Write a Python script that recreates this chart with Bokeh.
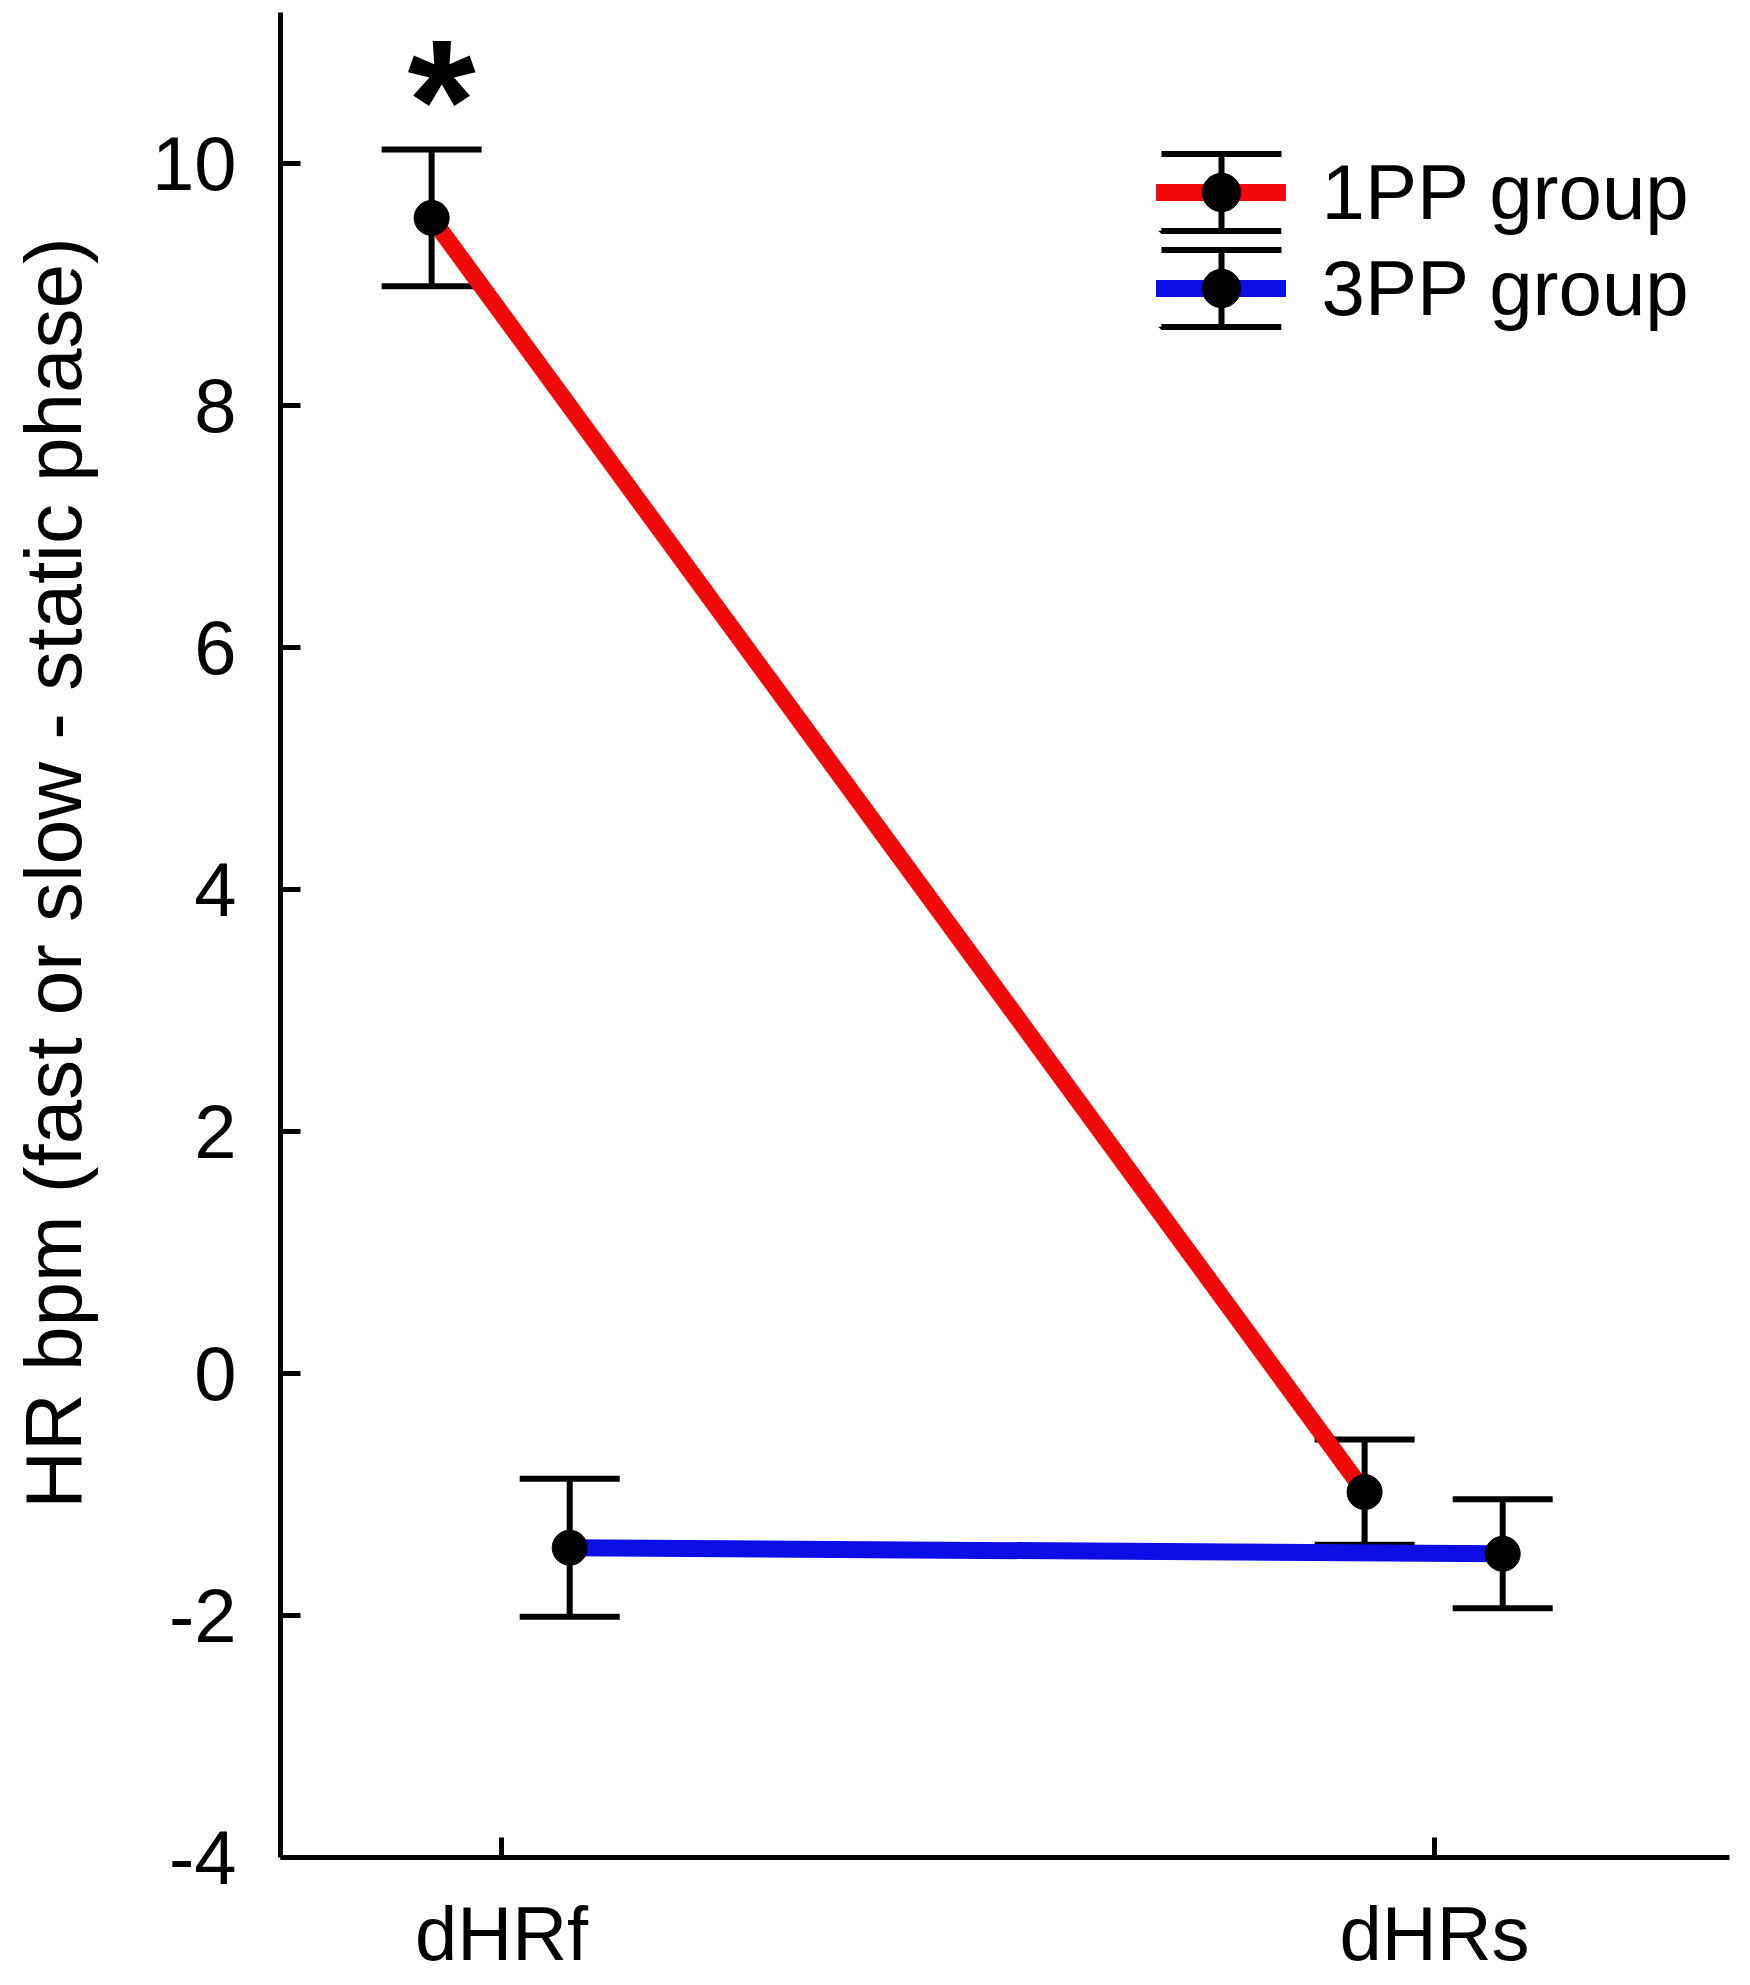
import numpy as np
from bokeh.plotting import figure
from bokeh.models import (ColumnDataSource, Whisker, TeeHead, FixedTicker, Label,
                          Legend, LegendItem, Range1d)
from bokeh.embed import file_html
from bokeh.resources import INLINE

# ---------------- data ----------------
categories = ["dHRf", "dHRs"]
hr_1pp = [9.55, -0.98]
sem_1pp = [0.565, 0.435]
hr_3pp = [-1.44, -1.49]
sem_3pp = [0.57, 0.45]
y_ticks = [-4, -2, 0, 2, 4, 6, 8, 10]
y_axis_top = 11.25
series_names = ["1PP group", "3PP group"]
y_title = "HR bpm (fast or slow - static phase)"
star_text = "*"

FONT = "Liberation Sans"
RED = "#f00a0a"
BLUE = "#0d0de6"

cat_pos = [i + 1 for i in range(len(categories))]
x_1pp = [c - 0.075 for c in cat_pos]
x_3pp = [c + 0.073 for c in cat_pos]

src_1pp = ColumnDataSource(dict(x=x_1pp, y=hr_1pp,
                                upper=[m + e for m, e in zip(hr_1pp, sem_1pp)],
                                lower=[m - e for m, e in zip(hr_1pp, sem_1pp)]))
src_3pp = ColumnDataSource(dict(x=x_3pp, y=hr_3pp,
                                upper=[m + e for m, e in zip(hr_3pp, sem_3pp)],
                                lower=[m - e for m, e in zip(hr_3pp, sem_3pp)]))

# axis placement (axes sit inside a full-canvas frame)
X_AXIS_START, X_AXIS_END = 0.763, 2.316
Y_AXIS_START = y_ticks[0]
X_START, X_END = 0.4629, 2.3386
Y_START, Y_END = -5.058, 11.347

p = figure(width=1750, height=1985, output_backend="svg", toolbar_location=None,
           x_range=Range1d(X_START, X_END), y_range=Range1d(Y_START, Y_END),
           min_border=0)
p.outline_line_color = None
p.xgrid.visible = False
p.ygrid.visible = False
p.background_fill_color = "white"
p.border_fill_color = "white"

# error bars
for src in (src_1pp, src_3pp):
    w = Whisker(source=src, base="x", upper="upper", lower="lower",
                line_color="black", line_width=6, level="underlay",
                upper_head=TeeHead(size=100, line_width=6, line_color="black"),
                lower_head=TeeHead(size=100, line_width=6, line_color="black"))
    p.add_layout(w)

line_1 = p.line("x", "y", source=src_1pp, line_color=RED, line_width=17, line_cap="round")
line_3 = p.line("x", "y", source=src_3pp, line_color=BLUE, line_width=17, line_cap="round")
dot_1 = p.scatter("x", "y", source=src_1pp, size=35, color="black")
dot_3 = p.scatter("x", "y", source=src_3pp, size=35, color="black")

# legend proxies for the error-bar symbol (no visible data):
# caps = top/bottom edges of a dashed rect, stem = right edge of another dashed rect
nan1 = np.array([np.nan])
caps_r = p.rect("x", "y", "w", "h", source=ColumnDataSource(dict(x=nan1, y=nan1, w=nan1, h=nan1)),
                fill_color=None, line_color="black", line_width=6, line_dash="120 77")
stem_r = p.rect("x", "y", "w", "h", source=ColumnDataSource(dict(x=nan1, y=nan1, w=nan1, h=nan1)),
                fill_color=None, line_color="black", line_width=6, line_dash="0 80 77 1000")

LEG_CENTER_X = 1220.5
LEG_BOTTOM = 1649
common = dict(orientation="vertical", glyph_height=96, spacing=0, padding=0, margin=0,
              border_line_alpha=0, background_fill_alpha=0)

caps_legend = Legend(items=[LegendItem(label=" ", renderers=[caps_r]),
                            LegendItem(label=" ", renderers=[caps_r])],
                     location=(LEG_CENTER_X - 75, LEG_BOTTOM), glyph_width=150,
                     label_standoff=0, label_text_font_size="10px", **common)
stem_legend = Legend(items=[LegendItem(label=" ", renderers=[stem_r]),
                            LegendItem(label=" ", renderers=[stem_r])],
                     location=(LEG_CENTER_X - 90, LEG_BOTTOM), glyph_width=100,
                     label_standoff=0, label_text_font_size="10px", **common)
legend = Legend(items=[
    LegendItem(label=series_names[0], renderers=[line_1, dot_1]),
    LegendItem(label=series_names[1], renderers=[line_3, dot_3]),
], location=(LEG_CENTER_X - 65, LEG_BOTTOM), glyph_width=130,
    label_standoff=36, label_text_font=FONT, label_text_font_size="78px",
    label_text_color="black", **common)
p.add_layout(caps_legend, "center")
p.add_layout(stem_legend, "center")
p.add_layout(legend, "center")

# axes
p.xaxis.ticker = FixedTicker(ticks=cat_pos)
p.xaxis.major_label_overrides = {c: lab for c, lab in zip(cat_pos, categories)}
p.xaxis.bounds = (X_AXIS_START, X_AXIS_END)
p.xaxis.fixed_location = Y_AXIS_START
p.yaxis.ticker = FixedTicker(ticks=y_ticks)
p.yaxis.major_label_overrides = {t: str(t) for t in y_ticks}
p.yaxis.bounds = (Y_AXIS_START, y_axis_top)
p.yaxis.fixed_location = X_AXIS_START
for ax in (p.xaxis, p.yaxis):
    ax.axis_line_width = 5
    ax.axis_line_color = "black"
    ax.major_tick_line_width = 5
    ax.major_tick_line_color = "black"
    ax.major_tick_in = 20
    ax.major_tick_out = 0
    ax.minor_tick_line_color = None
    ax.major_label_text_font = FONT
    ax.major_label_text_font_size = "76px"
    ax.major_label_text_color = "black"
p.xaxis.major_label_standoff = 34
p.yaxis.major_label_standoff = 44

# y axis title and significance marker
p.add_layout(Label(x=0.5202, y=4.136, text=y_title, angle=90, angle_units="deg",
                   text_align="center", text_baseline="middle",
                   text_font=FONT, text_font_size="80px", text_color="black"))
p.add_layout(Label(x=0.9357, y=11.33, text=star_text, text_align="center",
                   text_baseline="top", text_font=FONT, text_font_style="bold",
                   text_font_size="175px", text_color="black"))

open("out.html", "w").write(file_html(p, INLINE))
